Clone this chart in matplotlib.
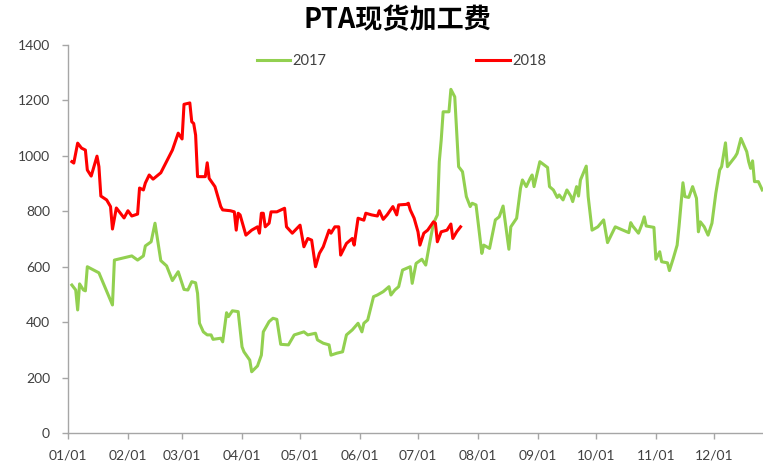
import matplotlib
matplotlib.use("Agg")
import matplotlib.pyplot as plt

# day offset from 01/01 and PTA spot processing fee
days_2017 = [2, 4, 5, 6, 8, 9, 10, 16, 19, 23, 24, 33, 36, 39, 40, 43, 45, 48, 51, 54,
             57, 60, 62, 64, 66, 67, 68, 70, 72, 74, 75, 79, 80, 82, 83, 85, 88, 90, 91, 94,
             95, 98, 100, 101, 104, 106, 108, 110, 114, 117, 122, 124, 128, 129, 132, 135, 136, 139, 142, 144,
             147, 150, 152, 153, 155, 158, 160, 163, 166, 167, 169, 171, 173, 175, 177, 178, 180, 183, 185, 187,
             189, 191, 192, 193, 194, 197, 198, 200, 202, 204, 206, 208, 209, 211, 214, 215, 218, 221, 223, 225,
             228, 229, 232, 234, 235, 237, 239, 240, 241, 244, 248, 249, 251, 253, 254, 256, 258, 260, 261, 263,
             264, 265, 268, 269, 271, 274, 277, 279, 283, 286, 289, 290, 291, 292, 295, 297, 298, 299, 303, 304,
             306, 307, 310, 311, 313, 315, 316, 318, 319, 321, 323, 325, 326, 327, 329, 331, 333, 335, 337, 338,
             340, 341, 345, 346, 348, 351, 352, 353, 354, 355, 357, 359]
fee_2017 = [534, 516, 444, 538, 516, 513, 600, 578, 528, 462, 624, 639, 624, 639, 675, 690, 757, 622, 603, 550,
            582, 518, 516, 546, 542, 504, 396, 365, 354, 354, 338, 342, 329, 434, 420, 441, 438, 311, 293, 263,
            221, 242, 281, 365, 402, 414, 410, 320, 318, 354, 365, 354, 360, 336, 324, 318, 281, 288, 293, 354,
            372, 396, 365, 396, 408, 492, 498, 510, 528, 498, 516, 528, 588, 594, 600, 540, 612, 627, 606, 684,
            757, 787, 979, 1057, 1159, 1159, 1240, 1213, 961, 943, 853, 817, 829, 823, 648, 678, 666, 769, 780, 819,
            663, 744, 775, 883, 913, 889, 919, 931, 889, 979, 958, 889, 877, 850, 859, 841, 877, 855, 835, 889,
            855, 913, 963, 853, 732, 744, 769, 687, 744, 735, 726, 723, 759, 747, 721, 757, 780, 747, 742, 627,
            654, 618, 614, 586, 630, 678, 747, 903, 853, 850, 889, 847, 726, 762, 744, 714, 757, 865, 949, 961,
            1047, 961, 997, 1009, 1063, 1015, 979, 955, 982, 907, 907, 877]

days_2018 = [2, 3, 5, 7, 9, 10, 12, 15, 16, 17, 20, 22, 23, 25, 29, 31, 33, 36, 37, 39,
             40, 42, 44, 48, 54, 57, 59, 60, 63, 64, 65, 66, 67, 71, 72, 73, 76, 79, 80, 84,
             86, 87, 88, 89, 92, 95, 98, 99, 100, 101, 102, 104, 105, 108, 112, 113, 116, 120, 122, 124,
             126, 128, 130, 132, 135, 136, 138, 140, 141, 144, 147, 148, 150, 153, 154, 157, 160, 161, 163, 165,
             168, 170, 171, 175, 176, 177, 179, 181, 182, 184, 186, 189, 190, 191, 193, 196, 198, 199, 201, 203]
fee_2018 = [979, 974, 1046, 1028, 1021, 949, 927, 999, 961, 855, 841, 817, 736, 812, 776, 802, 783, 790, 884, 877,
            902, 931, 916, 939, 1021, 1082, 1061, 1186, 1191, 1123, 1117, 1075, 925, 925, 975, 919, 889, 817, 805, 802,
            798, 732, 793, 787, 714, 732, 744, 721, 793, 793, 744, 757, 798, 798, 811, 744, 721, 750, 672, 702,
            696, 600, 648, 672, 732, 721, 744, 744, 642, 684, 702, 678, 775, 768, 793, 787, 783, 802, 771, 787,
            817, 787, 823, 825, 829, 805, 775, 726, 678, 721, 732, 762, 757, 690, 726, 732, 754, 702, 726, 744]

month_starts = [0, 31, 59, 90, 120, 151, 181, 212, 243, 273, 304, 334]
month_labels = ['01/01', '02/01', '03/01', '04/01', '05/01', '06/01',
                '07/01', '08/01', '09/01', '10/01', '11/01', '12/01']

fig = plt.figure(figsize=(7.63, 4.65), dpi=100)
ax = fig.add_axes([0.0891, 0.0688, 0.9109, 0.8344])

ax.plot(days_2017, fee_2017, color='#92D050', lw=2.2, label='2017')
ax.plot(days_2018, fee_2018, color='#FF0000', lw=2.2, label='2018')

ax.set_xlim(0, 359.4)
ax.set_ylim(0, 1400)
ax.set_yticks(range(0, 1401, 200))
ax.set_xticks(month_starts)
ax.set_xticklabels(month_labels)

for side in ['top', 'right']:
    ax.spines[side].set_visible(False)
for side in ['left', 'bottom']:
    ax.spines[side].set_color('#A6A6A6')
    ax.spines[side].set_linewidth(1.0)
ax.tick_params(axis='both', direction='out', length=4, width=1.0, color='#A6A6A6',
               labelcolor='#404040', labelsize=10)
ax.tick_params(axis='y', pad=9)
ax.tick_params(axis='x', pad=8)
for lab in ax.get_xticklabels() + ax.get_yticklabels():
    lab.set_family('Lato')

fig.text(0.521, 0.956, 'PTA现货加工费', ha='center', va='center',
         fontsize=19.5, fontweight='bold', family=['Noto Sans CJK SC', 'DejaVu Sans'],
         color='#000000')

fig.legend(loc='center', bbox_to_anchor=(0.526, 0.869), ncol=2, frameon=False,
           prop={'family': 'Lato', 'size': 10.5}, handlelength=2.3, handletextpad=0.15,
           columnspacing=10.3, labelcolor='#404040')

fig.savefig('out.png', dpi=100)
